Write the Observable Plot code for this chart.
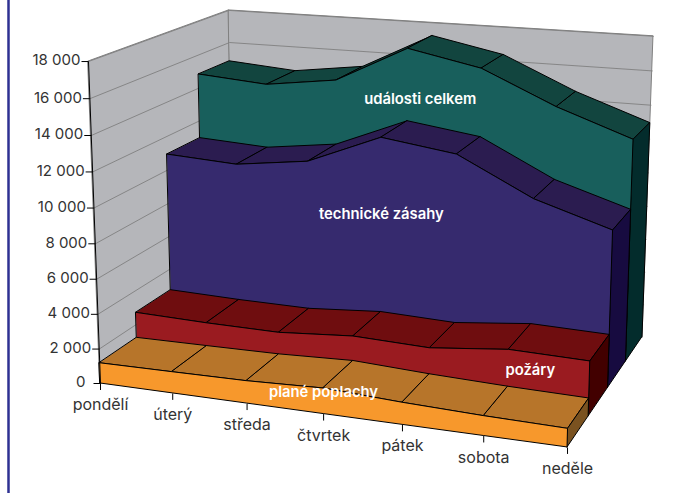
<!DOCTYPE html>
<html><head><meta charset="utf-8">
<script src="https://cdn.jsdelivr.net/npm/d3@7"></script>
<script src="https://cdn.jsdelivr.net/npm/@observablehq/plot@0.6"></script>
<style>html,body{margin:0;padding:0;background:#fff}svg{display:block}</style>
</head><body><div id="chart"></div>
<script>
const days = ["pondělí","úterý","středa","čtvrtek","pátek","sobota","neděle"];
const planePoplachy = [1180,1220,1270,1430,1220,1080,1000];
const pozary = [2680,2570,2530,2840,2700,3150,3050];
const technickeZasahy = [10920,10690,11240,12980,12390,10270,8940];
const udalostiCelkem = [14820,14500,15060,17210,16350,14460,12950];
const yTicks = [0,2000,4000,6000,8000,10000,12000,14000,16000,18000];
const seriesNames = ["plané poplachy","požáry","technické zásahy","události celkem"];
const frontColors = ["#f7982c","#9a1b20","#362a6e","#185f5c"];
const topColors = ["#b7752a","#6f0d0f","#2b1c50","#12453f"];
const sideColors = ["#7a5220","#420000","#170b40","#032c2c"];
const labelAnchors = [[3,1205],[5.27,2144],[3,8573],[3.17,14311]];

const allSeries = [planePoplachy,pozary,technickeZasahy,udalostiCelkem];
const vMax = 18000, kMax = 6, sMax = 4;
// perspective camera: three vanishing points and the origin
const VW=[-4910,-303], VD=[1072,-297], VH=[373,7716], O=[100,383];
const A=-0.08527, B=0.1595, C=-0.04206;
function P(k,s,v){
  const a=A*k/kMax,b=B*s/sMax,c=C*v/vMax, d=a+b+c+1;
  return [(a*VW[0]+b*VD[0]+c*VH[0]+O[0])/d,(a*VW[1]+b*VD[1]+c*VH[1]+O[1])/d];
}
function quadRows(id,p){ // rows: [bottom, top] pairs
  return p.map(([q1,q2])=>({id,x1:q1[0],y1:q1[1],x2:q2[0],y2:q2[1]}));
}
const areaOpts={x1:"x1",y1:"y1",x2:"x2",y2:"y2",z:"id"};
const font={fontFamily:"Inter",fontSize:15,fill:"#333"};

const marks=[];
// walls
marks.push(Plot.area(quadRows("left",[[P(0,0,0),P(0,0,vMax)],[P(0,sMax,0),P(0,sMax,vMax)]]),{...areaOpts,fill:"#b5b6ba",stroke:"#808080",strokeWidth:1}));
marks.push(Plot.area(quadRows("back",[[P(0,sMax,0),P(0,sMax,vMax)],[P(kMax,sMax,0),P(kMax,sMax,vMax)]]),{...areaOpts,fill:"#b5b6ba",stroke:"#808080",strokeWidth:1}));
// gridlines
const gridRows=yTicks.flatMap(v=>[[0,0],[0,sMax],[kMax,sMax]].map(([k,s])=>{const p=P(k,s,v);return {v,x:p[0],y:p[1]};}));
marks.push(Plot.line(gridRows,{x:"x",y:"y",z:"v",stroke:"#808080",strokeWidth:0.9}));
// series, back to front
for(let s=sMax-1;s>=0;s--){
  const vals=allSeries[s];
  const tops=[];
  for(let k=0;k<kMax;k++){
    tops.push(...quadRows("t"+k,[[P(k,s,vals[k]),P(k,s+1,vals[k])],[P(k+1,s,vals[k+1]),P(k+1,s+1,vals[k+1])]]));
  }
  marks.push(Plot.area(tops,{...areaOpts,fill:topColors[s],stroke:"#000",strokeWidth:1}));
  marks.push(Plot.area(quadRows("side",[[P(kMax,s,0),P(kMax,s,vals[kMax])],[P(kMax,s+1,0),P(kMax,s+1,vals[kMax])]]),{...areaOpts,fill:sideColors[s],stroke:"#000",strokeWidth:1}));
  marks.push(Plot.area(quadRows("front",vals.map((v,k)=>[P(k,s,0),P(k,s,v)])),{...areaOpts,fill:frontColors[s],stroke:"#000",strokeWidth:1}));
}
// value axis
const axisTop=P(0,0,vMax), axisBottom=P(0,0,0);
marks.push(Plot.link([{}],{x1:()=>axisBottom[0],y1:()=>axisBottom[1],x2:()=>axisTop[0],y2:()=>axisTop[1],stroke:"#000",strokeWidth:1}));
const yTickRows=yTicks.map(v=>{const p=P(0,0,v);return {v,x:p[0],y:p[1],label:v===0?"0":d3.format(",")(v).replace(/,/g,"\u00a0")};});
marks.push(Plot.link(yTickRows,{x1:d=>d.x-7,x2:"x",y1:"y",y2:"y",stroke:"#000",strokeWidth:1}));
marks.push(Plot.text(yTickRows,{x:d=>d.x-(d.v===0?15:8),y:"y",text:"label",textAnchor:"end",dy:-1,...font}));
// category axis
const xTickRows=days.map((d,k)=>{const p=P(k,0,0);return {d,x:p[0],y:p[1]};});
marks.push(Plot.link(xTickRows,{x1:"x",x2:"x",y1:"y",y2:d=>d.y+6.5,stroke:"#000",strokeWidth:1}));
marks.push(Plot.text(xTickRows,{x:"x",y:d=>d.y+21.5,text:"d",textAnchor:"middle",...font,fontSize:16}));
// series labels
const labelRows=seriesNames.map((name,s)=>{const p=P(labelAnchors[s][0],s,labelAnchors[s][1]);return {name,x:p[0],y:p[1]};});
marks.push(Plot.text(labelRows,{x:"x",y:"y",text:"name",textAnchor:"middle",...font,fill:"#fff",fontWeight:600,fontSize:14.8}));
// page rule at left
marks.push(Plot.ruleX([8],{stroke:"#2e3192",strokeWidth:2.5}));

const chart=Plot.plot({
  width:676,height:493,margin:0,
  x:{domain:[0,676],range:[0,676],axis:null},
  y:{domain:[0,493],range:[0,493],axis:null},
  style:{background:"#fff"},
  marks
});
document.getElementById("chart").append(chart);
</script></body></html>
